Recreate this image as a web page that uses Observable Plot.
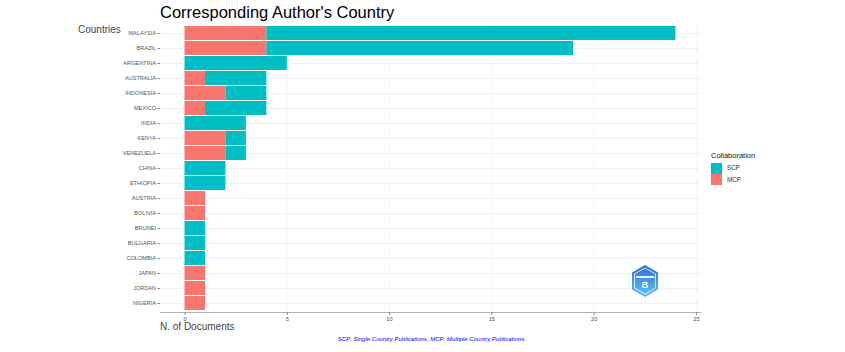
<!DOCTYPE html>
<html>
<head>
<meta charset="utf-8">
<script src="https://cdn.jsdelivr.net/npm/d3@7"></script>
<script src="https://cdn.jsdelivr.net/npm/@observablehq/plot@0.6"></script>
<style>
  html, body { margin: 0; padding: 0; background: #fff; }
  #wrap { position: relative; width: 845px; height: 352px; overflow: hidden; font-family: "Liberation Sans", Arial, sans-serif; }
  #chart { position: absolute; left: 0; top: 0; }
  .ov { position: absolute; white-space: nowrap; line-height: 1; }
  #title { left: 160px; top: 4px; font-size: 16.5px; color: #000; }
  #ylab { left: 78px; top: 25px; font-size: 10px; color: #444; }
  #xlab { left: 160px; top: 322px; font-size: 10px; color: #444; }
  #caption { left: 0; width: 862px; text-align: center; top: 336px; font-size: 6px; font-style: italic; color: #0000ff; }
  #legend { left: 711px; top: 152px; font-size: 7.5px; color: #111; }
  #legend .ttl { margin-bottom: 3px; }
  #legend .row { display: flex; align-items: center; height: 11.5px; }
  #legend .sw { width: 11px; height: 11px; margin-right: 5px; }
  #legend .row span { font-size: 6.3px; color: #333; }
  #logo { position: absolute; left: 630px; top: 264px; }
</style>
</head>
<body>
<div id="wrap">
  <div id="chart"></div>
  <div class="ov" id="title">Corresponding Author's Country</div>
  <div class="ov" id="ylab">Countries</div>
  <div class="ov" id="xlab">N. of Documents</div>
  <div class="ov" id="caption">SCP: Single Country Publications, MCP: Multiple Country Publications</div>
  <div class="ov" id="legend"></div>
  <svg id="logo" width="30" height="34" viewBox="0 0 30 34">
    <defs>
      <linearGradient id="lg" x1="0" y1="0" x2="0" y2="1">
        <stop offset="0" stop-color="#2f6fd6"/>
        <stop offset="1" stop-color="#5fc3f5"/>
      </linearGradient>
    </defs>
    <polygon points="15,1 28,8.5 28,25.5 15,33 2,25.5 2,8.5" fill="url(#lg)"/>
    <polygon points="15,4 25.5,10 25.5,24 15,30 4.5,24 4.5,10" fill="none" stroke="#fff" stroke-width="0.8"/>
    <rect x="6" y="12" width="18" height="2" fill="#fff" opacity="0.9"/>
    <text x="15" y="24" font-size="9" font-weight="bold" fill="#fff" text-anchor="middle" font-family="Liberation Sans">B</text>
  </svg>
</div>
<script>
const countries = ["MALAYSIA","BRAZIL","ARGENTINA","AUSTRALIA","INDONESIA","MEXICO","INDIA","KENYA","VENEZUELA","CHINA","ETHIOPIA","AUSTRIA","BOLIVIA","BRUNEI","BULGARIA","COLOMBIA","JAPAN","JORDAN","NIGERIA"];
const scpValues = [20,15,5,3,2,3,3,1,1,2,2,0,0,1,1,1,0,0,0];
const mcpValues = [4,4,0,1,2,1,0,2,2,0,0,1,1,0,0,0,1,1,1];
const xTicks = [0,5,10,15,20,25];
const seriesNames = ["SCP","MCP"];
const seriesColors = ["#00BFC4","#F8766D"];

const rows = [];
countries.forEach((c, i) => {
  if (mcpValues[i] > 0) rows.push({country: c, type: "MCP", value: mcpValues[i]});
  if (scpValues[i] > 0) rows.push({country: c, type: "SCP", value: scpValues[i]});
});

const plot = Plot.plot({
  width: 845,
  height: 352,
  marginLeft: 160,
  marginRight: 145,
  marginTop: 24,
  marginBottom: 40,
  style: {fontFamily: "Liberation Sans, Arial, sans-serif", background: "transparent"},
  x: {domain: [-1.2, 25.2], label: null},
  y: {domain: countries, paddingInner: 0.1, paddingOuter: 0.15, label: null},
  color: {domain: seriesNames, range: seriesColors},
  marks: [
    Plot.gridX(xTicks, {stroke: "#f7f7f7", strokeOpacity: 1}),
    Plot.gridY({stroke: "#f0f0f0", strokeOpacity: 1, strokeWidth: 1.1}),
    Plot.barX(rows, Plot.stackX({x: "value", y: "country", fill: "type", z: "type", order: ["MCP","SCP"]})),
    Plot.frame({anchor: "bottom", stroke: "#b0b0b0", strokeWidth: 1.2}),
    Plot.axisX({ticks: xTicks, tickSize: 3, tickPadding: 1, fontSize: 5.8, color: "#555", stroke: "#888", label: null}),
    Plot.axisY({tickSize: 2.5, tickPadding: 2, fontSize: 5.6, color: "#555", stroke: "#888", label: null})
  ]
});
document.getElementById("chart").appendChild(plot);

const legend = document.getElementById("legend");
let html = '<div class="ttl">Collaboration</div>';
seriesNames.forEach((s, i) => {
  html += `<div class="row"><div class="sw" style="background:${seriesColors[i]}"></div><span>${s}</span></div>`;
});
legend.innerHTML = html;
</script>
</body>
</html>
